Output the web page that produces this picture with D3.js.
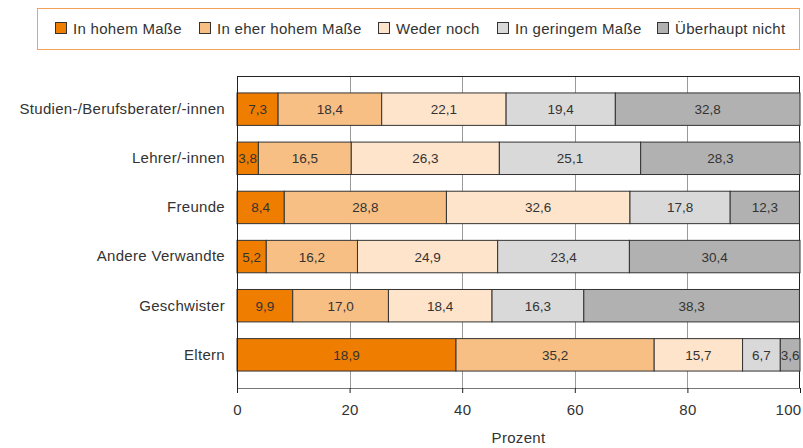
<!DOCTYPE html>
<html>
<head>
<meta charset="utf-8">
<script src="https://cdn.jsdelivr.net/npm/d3@7"></script>
<style>
  body { margin: 0; background: #fff; }
  text { font-family: "Liberation Sans", Arial, sans-serif; fill: #333; }
</style>
</head>
<body>
<div id="chart"></div>
<script>
// categories and series (Prozent)
var categories = ["Studien-/Berufsberater/-innen", "Lehrer/-innen", "Freunde", "Andere Verwandte", "Geschwister", "Eltern"];
var seriesNames = ["In hohem Maße", "In eher hohem Maße", "Weder noch", "In geringem Maße", "Überhaupt nicht"];
var inHohem = [7.3, 3.8, 8.4, 5.2, 9.9, 38.9];
var eherHohem = [18.4, 16.5, 28.8, 16.2, 17.0, 35.2];
var wederNoch = [22.1, 26.3, 32.6, 24.9, 18.4, 15.7];
var geringem = [19.4, 25.1, 17.8, 23.4, 16.3, 6.7];
var ueberhaupt = [32.8, 28.3, 12.3, 30.4, 38.3, 3.6];
// printed label of the first series (the original shows 18,9 for Eltern)
var inHohemText = ["7,3", "3,8", "8,4", "5,2", "9,9", "18,9"];
var xTicks = [0, 20, 40, 60, 80, 100];

var colors = ["#ef7d00", "#f7bf83", "#fde4cb", "#d9d9d9", "#b1b1b1"];
var series = [inHohem, eherHohem, wederNoch, geringem, ueberhaupt];

var W = 803, H = 448;
var margin = { top: 76, right: 3, bottom: 60, left: 237 },
    width = W - margin.left - margin.right,
    height = H - margin.top - margin.bottom;

var svg = d3.select("#chart")
    .append("svg")
    .attr("width", W)
    .attr("height", H);

function labelStyle(sel) {
    sel.style("font-size", "15px")
        .style("letter-spacing", "0.3px")
        .style("font-family", "Liberation Sans, Arial, sans-serif")
        .attr("fill", "#333");
}

// legend
var legend = svg.append("g");
legend.append("rect")
    .attr("x", 37.5).attr("y", 8.5)
    .attr("width", 762).attr("height", 41)
    .attr("fill", "#fff")
    .attr("stroke", "#f4a259");
var legendX = [55, 199, 378, 497, 657];
seriesNames.forEach(function (name, i) {
    legend.append("rect")
        .attr("x", legendX[i] + 0.5).attr("y", 22.5)
        .attr("width", 11).attr("height", 11)
        .attr("fill", colors[i])
        .attr("stroke", "#333");
    legend.append("text")
        .attr("x", legendX[i] + 18).attr("y", 33.5)
        .call(labelStyle)
        .text(name);
});

var g = svg.append("g")
    .attr("transform", "translate(" + margin.left + "," + margin.top + ")");

var x = d3.scaleLinear().domain([0, 100]).range([0, width]);
var y = d3.scaleBand().domain(categories).range([0, height])
    .paddingInner(0.34).paddingOuter(0.345);

// grid lines
g.append("g")
    .selectAll("line")
    .data(xTicks.slice(1, -1))
    .enter()
    .append("line")
    .attr("x1", function (d) { return Math.round(x(d)) + 0.5 })
    .attr("x2", function (d) { return Math.round(x(d)) + 0.5 })
    .attr("y1", 0)
    .attr("y2", height)
    .attr("stroke", "#9a9a9a");

// frame: top and right
g.append("path")
    .attr("d", "M0.5,0.5H" + (width - 0.5) + "V" + height)
    .attr("fill", "none")
    .attr("stroke", "#222");

// stacked bars
var stack = categories.map(function (c, i) {
    var start = 0;
    return series.map(function (s, k) {
        var seg = { cat: c, k: k, x0: start, x1: start + s[i], v: s[i], i: i };
        start += s[i];
        return seg;
    });
});
var fmt = function (v) { return d3.format(".1f")(v).replace(".", ","); };

var rows = g.append("g")
    .selectAll("g")
    .data(stack)
    .enter()
    .append("g");

rows.selectAll("rect")
    .data(function (d) { return d; })
    .enter()
    .append("rect")
    .attr("x", function (d) { return x(d.x0) })
    .attr("y", function (d) { return y(d.cat) })
    .attr("width", function (d) { return x(Math.min(d.x1, 100)) - x(d.x0) })
    .attr("height", y.bandwidth())
    .attr("fill", function (d) { return colors[d.k] })
    .attr("stroke", "#333")
    .attr("stroke-width", 1);

rows.selectAll("text")
    .data(function (d) { return d; })
    .enter()
    .append("text")
    .attr("x", function (d) { return (x(d.x0) + x(Math.min(d.x1, 100))) / 2 })
    .attr("y", function (d) { return y(d.cat) + y.bandwidth() / 2 + 5 })
    .attr("text-anchor", "middle")
    .style("font-size", "13.5px")
    .text(function (d) { return d.k === 0 ? inHohemText[d.i] : fmt(d.v) });

// y axis
var yAxis = g.append("g")
    .call(d3.axisLeft(y).tickSize(0).tickPadding(12));
yAxis.select(".domain").attr("stroke", "#222").attr("d", "M0.5,0V" + (height + 5));
yAxis.selectAll("text").call(labelStyle);

// x axis
var xAxis = g.append("g")
    .attr("transform", "translate(0," + height + ")")
    .call(d3.axisBottom(x).tickValues(xTicks).tickSize(5).tickPadding(11));
xAxis.select(".domain").attr("stroke", "#777").attr("d", "M0," + 0.5 + "H" + width);
xAxis.selectAll(".tick line").attr("stroke", "#222");
xAxis.selectAll("text").call(labelStyle);
xAxis.selectAll(".tick text")
    .filter(function (d) { return d === 100 })
    .attr("text-anchor", "end")
    .attr("x", 1);

g.append("text")
    .attr("x", width / 2)
    .attr("y", height + 55)
    .attr("text-anchor", "middle")
    .call(labelStyle)
    .text("Prozent");
</script>
</body>
</html>
